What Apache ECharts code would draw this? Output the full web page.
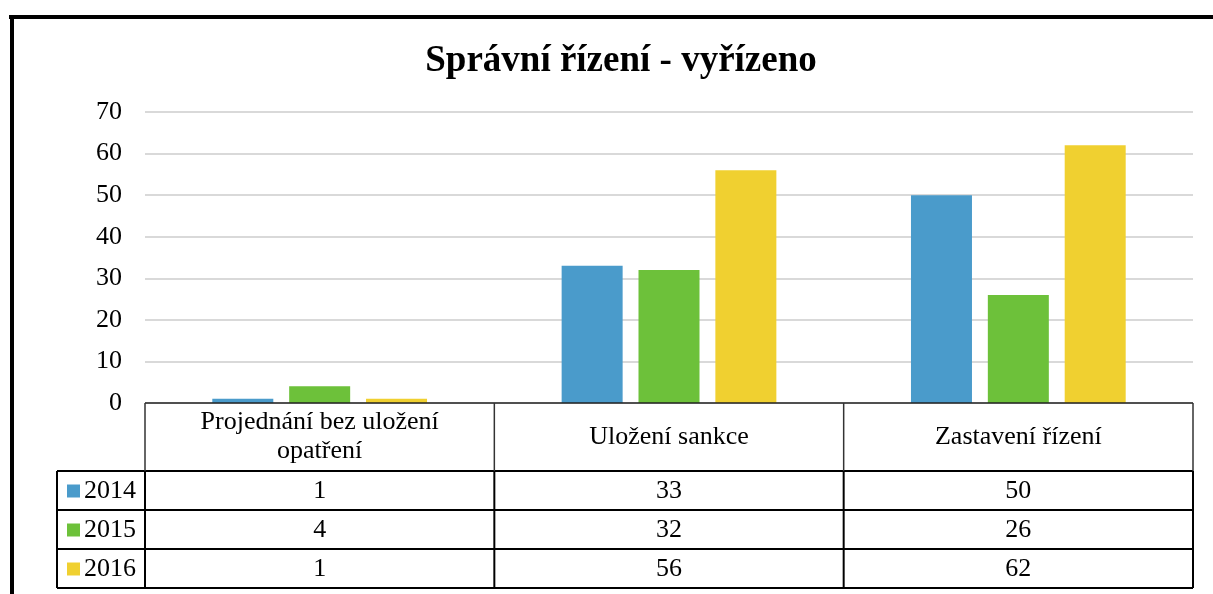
<!DOCTYPE html>
<html><head><meta charset="utf-8">
<script src="https://cdn.jsdelivr.net/npm/echarts@6/dist/echarts.min.js"></script>
<style>html,body{margin:0;padding:0;background:#fff}#c{width:1213px;height:594px}</style>
</head><body><div id="c"></div>
<script>
const chartTitle = 'Správní řízení - vyřízeno';
const categories = ['Projednání bez uložení\nopatření', 'Uložení sankce', 'Zastavení řízení'];
const years = ['2014', '2015', '2016'];
const values2014 = [1, 33, 50];
const values2015 = [4, 32, 26];
const values2016 = [1, 56, 62];
const colors = ['#4a9bcb', '#6dc13a', '#f0d030'];
const yMin = 0, yMax = 70, yStep = 10;

const seriesValues = [values2014, values2015, values2016];
const FONT = '"Liberation Serif", "Times New Roman", serif';

const chart = echarts.init(document.getElementById('c'), null, {renderer: 'canvas'});
const option = {
  animation: false,
  backgroundColor: '#fff',
  title: {
    text: chartTitle, left: 616, top: 38, textAlign: 'center',
    textStyle: {fontFamily: FONT, fontSize: 37, fontWeight: 'bold', color: '#000'}
  },
  grid: {left: 145, right: 20, top: 112, bottom: 191, containLabel: false},
  xAxis: {
    type: 'category', data: categories,
    axisLine: {show: false}, axisTick: {show: false}, axisLabel: {show: false}, splitLine: {show: false}
  },
  yAxis: {
    type: 'value', min: yMin, max: yMax, interval: yStep,
    axisLine: {show: false}, axisTick: {show: false},
    axisLabel: {fontFamily: FONT, fontSize: 26, color: '#000', margin: 23},
    splitLine: {lineStyle: {color: '#d9d9d9', width: 2}}
  },
  series: years.map((y, i) => ({
    name: y, type: 'bar', data: seriesValues[i], barWidth: 61, barGap: '26%',
    itemStyle: {color: colors[i]}
  }))
};
chart.setOption(option);

function buildTable() {
  const yTop = chart.convertToPixel({yAxisIndex: 0}, 0);
  const c0 = chart.convertToPixel({xAxisIndex: 0}, 0);
  const c1 = chart.convertToPixel({xAxisIndex: 0}, 1);
  const band = c1 - c0;
  const xs = categories.map((_, i) => chart.convertToPixel({xAxisIndex: 0}, i) - band / 2);
  xs.push(xs[xs.length - 1] + band);
  const xLeft = 57;
  const headerH = 68, rowH = 39;
  const yHead = yTop + headerH;
  const rowYs = years.map((_, i) => yHead + rowH * i);
  const yBottom = yHead + rowH * years.length;
  const els = [];
  const line = (x1, y1, x2, y2, w, c) => els.push({type: 'line', silent: true, z: 100,
    shape: {x1, y1, x2, y2}, style: {stroke: c || '#000', lineWidth: w || 2}});
  // frame
  els.push({type: 'rect', z: 100, shape: {x: 9, y: 15, width: 1204, height: 4}, style: {fill: '#000'}});
  els.push({type: 'rect', z: 100, shape: {x: 10, y: 15, width: 4, height: 579}, style: {fill: '#000'}});
  // header lines
  line(xs[0], yTop, xs[3], yTop, 1.5, '#222');
  line(xLeft, yHead, xs[3], yHead, 2);
  years.forEach((_, i) => line(xLeft, rowYs[i] + rowH, xs[3], rowYs[i] + rowH, 2));
  line(xLeft, yHead, xLeft, yBottom, 2);
  xs.forEach((x, i) => {
    line(x, yTop, x, yHead, 1.5, '#333');
    line(x, yHead, x, yBottom, 2);
  });
  // header texts
  categories.forEach((c, i) => {
    els.push({type: 'text', z: 101, style: {text: c, x: (xs[i] + xs[i + 1]) / 2, y: yTop + headerH / 2,
      align: 'center', verticalAlign: 'middle', font: '26px ' + FONT, fill: '#000', lineHeight: 29}});
  });
  // rows
  years.forEach((yr, r) => {
    const cy = rowYs[r] + rowH / 2;
    els.push({type: 'rect', z: 101, shape: {x: 67, y: cy - 6, width: 13, height: 13}, style: {fill: colors[r]}});
    els.push({type: 'text', z: 101, style: {text: yr, x: 84, y: cy + 1, align: 'left', verticalAlign: 'middle',
      font: '26px ' + FONT, fill: '#000'}});
    seriesValues[r].forEach((v, i) => {
      els.push({type: 'text', z: 101, style: {text: String(v), x: (xs[i] + xs[i + 1]) / 2, y: cy + 1,
        align: 'center', verticalAlign: 'middle', font: '26px ' + FONT, fill: '#000'}});
    });
  });
  chart.setOption({graphic: {elements: els}});
}
buildTable();
</script></body></html>
